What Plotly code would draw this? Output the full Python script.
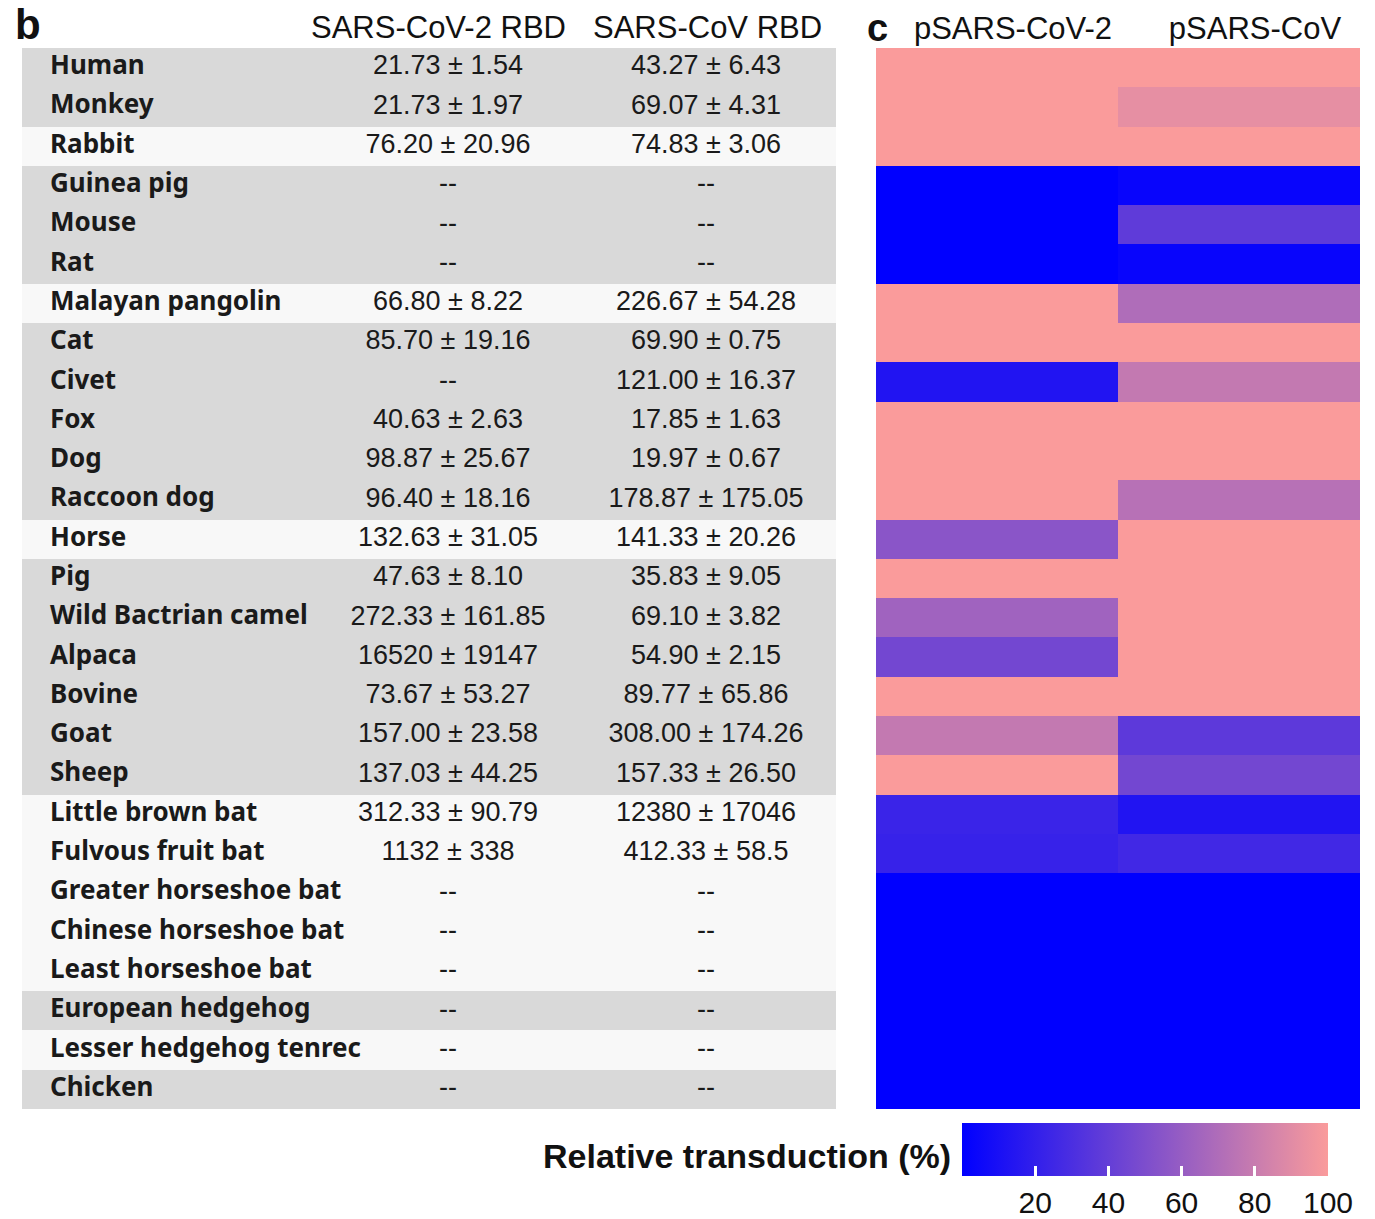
import plotly.graph_objects as go

# ---- data ----------------------------------------------------------------
species = [
    "Human", "Monkey", "Rabbit", "Guinea pig", "Mouse", "Rat",
    "Malayan pangolin", "Cat", "Civet", "Fox", "Dog", "Raccoon dog",
    "Horse", "Pig", "Wild Bactrian camel", "Alpaca", "Bovine", "Goat",
    "Sheep", "Little brown bat", "Fulvous fruit bat",
    "Greater horseshoe bat", "Chinese horseshoe bat", "Least horseshoe bat",
    "European hedgehog", "Lesser hedgehog tenrec", "Chicken",
]

# binding values (mean ± SD) for the two RBDs
sars2_rbd = [
    "21.73 ± 1.54", "21.73 ± 1.97", "76.20 ± 20.96", "--", "--", "--",
    "66.80 ± 8.22", "85.70 ± 19.16", "--", "40.63 ± 2.63", "98.87 ± 25.67",
    "96.40 ± 18.16", "132.63 ± 31.05", "47.63 ± 8.10", "272.33 ± 161.85",
    "16520 ± 19147", "73.67 ± 53.27", "157.00 ± 23.58", "137.03 ± 44.25",
    "312.33 ± 90.79", "1132 ± 338", "--", "--", "--", "--", "--", "--",
]
sars_rbd = [
    "43.27 ± 6.43", "69.07 ± 4.31", "74.83 ± 3.06", "--", "--", "--",
    "226.67 ± 54.28", "69.90 ± 0.75", "121.00 ± 16.37", "17.85 ± 1.63",
    "19.97 ± 0.67", "178.87 ± 175.05", "141.33 ± 20.26", "35.83 ± 9.05",
    "69.10 ± 3.82", "54.90 ± 2.15", "89.77 ± 65.86", "308.00 ± 174.26",
    "157.33 ± 26.50", "12380 ± 17046", "412.33 ± 58.5",
    "--", "--", "--", "--", "--", "--",
]

# row grouping shade (1 = grey band, 0 = light band)
row_group = [1, 1, 0, 1, 1, 1, 0, 1, 1, 1, 1, 1, 0, 1, 1, 1, 1, 1, 1,
             0, 0, 0, 0, 0, 1, 0, 1]

# relative transduction (%) of the two pseudoviruses
pseudo_labels = ["pSARS-CoV-2", "pSARS-CoV"]
p_sars2 = [100, 100, 100, 0, 0, 0, 100, 100, 13, 100, 100, 100, 55, 100,
           64, 46, 100, 78, 100, 23, 22, 0, 0, 0, 0, 0, 0]
p_sars = [100, 92, 100, 3, 38, 3, 70, 100, 78, 100, 100, 73, 100, 100,
          100, 100, 100, 37, 46, 13, 26, 0, 0, 0, 0, 0, 0]
cbar_ticks = [20, 40, 60, 80, 100]

# ---- layout constants ------------------------------------------------------
W, H = 1375, 1219
TOP, BOTTOM = 48, 1109
TABLE_X = (22, 836)
HEAT_X = (876, 1360)
TABLE_W = TABLE_X[1] - TABLE_X[0]
NAME_X, COL1_X, COL2_X = 28, 426, 684

label_font = dict(family="Noto Sans, Open Sans, sans-serif", size=26,
                  color="#1a1a1a", weight=700)
value_font = dict(family="Liberation Sans, Arial, sans-serif", size=27,
                  color="#1a1a1a")
head_font = dict(family="Liberation Sans, Arial, sans-serif", size=31,
                 color="#111111")

fig = go.Figure()

# table row bands
fig.add_trace(go.Heatmap(
    x=[0, TABLE_W], y=species, z=[[g] for g in row_group],
    xaxis="x2", yaxis="y",
    colorscale=[[0, "#f8f8f8"], [1, "#d9d9d9"]], zmin=0, zmax=1,
    showscale=False, hoverinfo="skip",
))
# species names
fig.add_trace(go.Scatter(
    x=[NAME_X] * len(species), y=species, text=species, mode="text",
    textposition="middle right", textfont=label_font,
    xaxis="x2", yaxis="y", hoverinfo="skip", showlegend=False,
))
# value columns
fig.add_trace(go.Scatter(
    x=[COL1_X] * len(species), y=species, text=sars2_rbd, mode="text",
    textposition="middle center", textfont=value_font,
    xaxis="x2", yaxis="y", hoverinfo="skip", showlegend=False,
))
fig.add_trace(go.Scatter(
    x=[COL2_X] * len(species), y=species, text=sars_rbd, mode="text",
    textposition="middle center", textfont=value_font,
    xaxis="x2", yaxis="y", hoverinfo="skip", showlegend=False,
))

# transduction heatmap
fig.add_trace(go.Heatmap(
    x=pseudo_labels, y=species,
    z=[[a, b] for a, b in zip(p_sars2, p_sars)],
    xaxis="x", yaxis="y", zmin=0, zmax=100,
    colorscale=[[0, "#0000ff"], [1, "#fa9b9b"]],
    hoverinfo="skip",
    colorbar=dict(
        orientation="h", x=(962 + 1328) / 2 / W, xanchor="center",
        y=1 - 1123 / H, yanchor="top", len=(1328 - 962) / W,
        lenmode="fraction", thickness=53, thicknessmode="pixels",
        xpad=0, ypad=0, outlinewidth=0,
        tickmode="array", tickvals=cbar_ticks,
        ticks="inside", ticklen=10, tickwidth=3, tickcolor="white",
        tickfont=dict(family="Liberation Sans Narrow, Arial Narrow, Liberation Sans, Arial",
                      size=30, color="#111111"),
    ),
))

n_rows = len(species)
fig.update_layout(
    width=W, height=H,
    margin=dict(l=0, r=0, t=0, b=0, autoexpand=False),
    paper_bgcolor="white", plot_bgcolor="white",
    showlegend=False,
    xaxis=dict(domain=[HEAT_X[0] / W, HEAT_X[1] / W], side="top",
               showgrid=False, zeroline=False, showline=False,
               ticks="", ticklabelshift=16, ticklabelstandoff=2,
               tickfont=head_font, fixedrange=True, automargin=False),
    xaxis2=dict(domain=[TABLE_X[0] / W, TABLE_X[1] / W], range=[0, TABLE_W],
                showgrid=False, zeroline=False, showline=False,
                showticklabels=False, ticks="", fixedrange=True),
    yaxis=dict(domain=[1 - BOTTOM / H, 1 - TOP / H],
               range=[n_rows - 0.5, -0.5],
               showgrid=False, zeroline=False, showline=False,
               showticklabels=False, ticks="", fixedrange=True),
)

# table column headers
for cx, txt in [(416, "SARS-CoV-2 RBD"), (685, "SARS-CoV RBD")]:
    fig.add_annotation(x=cx, y=1 - 27 / H, xref="x2", yref="paper",
                       text=txt, showarrow=False, font=head_font,
                       xanchor="center", yanchor="middle")

# panel letters
fig.add_annotation(x=13 / W, y=1 - 24 / H, xref="paper", yref="paper",
                   text="<b>b</b>", showarrow=False, xanchor="left",
                   yanchor="middle",
                   font=dict(family="Liberation Sans, Arial", size=42,
                             color="#111111"))
fig.add_annotation(x=865 / W, y=1 - 28 / H, xref="paper", yref="paper",
                   text="<b>c</b>", showarrow=False, xanchor="left",
                   yanchor="middle",
                   font=dict(family="Liberation Sans, Arial", size=38,
                             color="#111111"))

# colour bar caption
fig.add_annotation(x=953 / W, y=1 - 1156 / H, xref="paper", yref="paper",
                   text="<b>Relative transduction (%)</b>", showarrow=False,
                   xanchor="right", yanchor="middle",
                   font=dict(family="Liberation Sans, Arial", size=34,
                             color="#111111"))

fig.write_html("out.html")
